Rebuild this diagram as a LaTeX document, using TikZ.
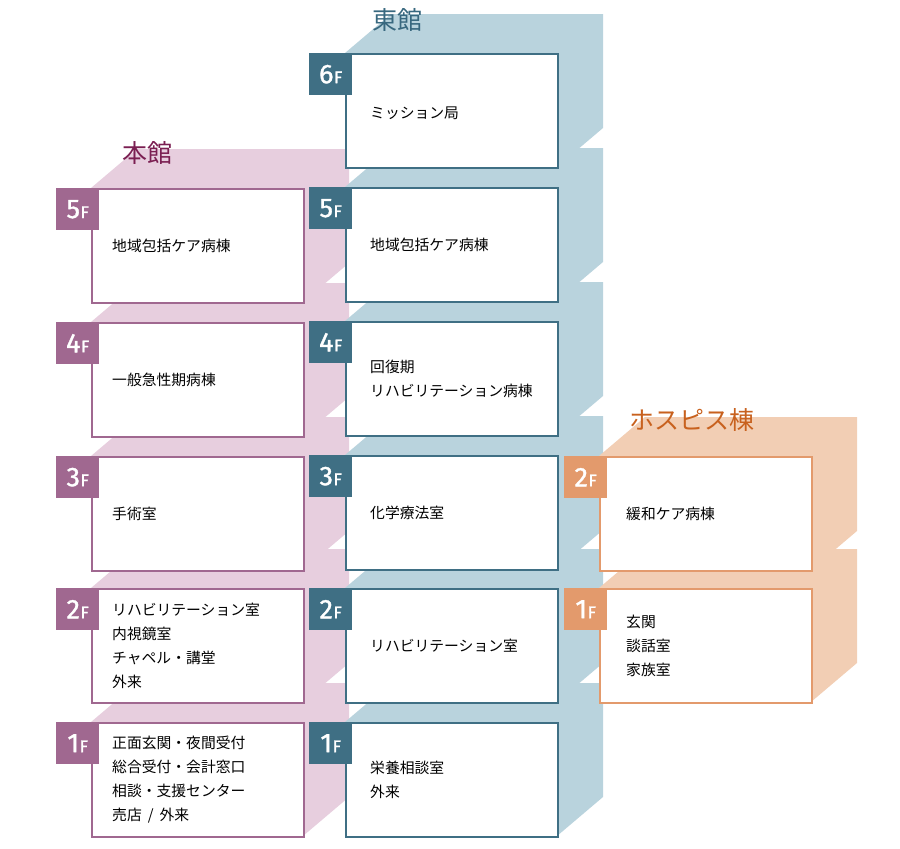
\documentclass[tikz,border=0pt]{standalone}
\usepackage{fontspec}
\setmainfont{Noto Sans CJK JP}
\newfontfamily\numfont{Fira Sans}[FakeBold=1.2]
\definecolor{pfill}{HTML}{E7CEDE}
\definecolor{pline}{HTML}{A06890}
\definecolor{ptitle}{HTML}{7B1F52}
\definecolor{bfill}{HTML}{B9D3DD}
\definecolor{bline}{HTML}{3F6F84}
\definecolor{btitle}{HTML}{38687F}
\definecolor{ofill}{HTML}{F2CEB4}
\definecolor{oline}{HTML}{E39A6C}
\definecolor{otitle}{HTML}{C8611E}
\newcommand{\prismfill}[3]{\fill[#3] (#1,#2) -- ++(46,-39) -- ++(212,0) -- ++(0,114) -- ++(-46,39) -- ++(-212,0) -- cycle;}
\newcommand{\flr}[1]{{\numfont\fontsize{27}{27}\selectfont #1\kern0.5pt\fontsize{17}{17}\selectfont F}}
\begin{document}
\begin{tikzpicture}[x=1pt,y=-1pt,
  box/.style={draw=#1, line width=1.8pt, fill=white, minimum width=212pt, minimum height=114pt, inner sep=0pt, anchor=north west},
  lab/.style={fill=#1, text=white, minimum width=43pt, minimum height=42pt, inner sep=0pt, anchor=north west},
  room/.style={anchor=west, align=left, font=\fontsize{14.8}{24}\selectfont, inner sep=0pt, text=black},
  ttl/.style={font=\fontsize{25}{25}\selectfont, text=#1, inner sep=0pt}]
\useasboundingbox (0,0) rectangle (900,849);
% ---------- 本館 ----------
\foreach \yy in {188,322,456,588,722}{\prismfill{91}{\yy}{pfill}}
\node[box=pline] (h5) at (91,188) {};
\node[box=pline] (h4) at (91,322) {};
\node[box=pline] (h3) at (91,456) {};
\node[box=pline] (h2) at (91,588) {};
\node[box=pline] (h1) at (91,722) {};
\node[lab=pline] (h5l) at (56,188) {\flr{5}};
\node[lab=pline] (h4l) at (56,322) {\flr{4}};
\node[lab=pline] (h3l) at (56,456) {\flr{3}};
\node[lab=pline] (h2l) at (56,588) {\flr{2}};
\node[lab=pline] (h1l) at (56,722) {\flr{1}};
\node[room] (h5t) at ([xshift=21pt]h5.west) {地域包括ケア病棟};
\node[room] (h4t) at ([xshift=21pt]h4.west) {一般急性期病棟};
\node[room] (h3t) at ([xshift=21pt]h3.west) {手術室};
\node[room] (h2t) at ([xshift=21pt]h2.west) {リハビリテーション室\\内視鏡室\\チャペル・講堂\\外来};
\node[room] (h1t) at ([xshift=21pt]h1.west) {正面玄関・夜間受付\\総合受付・会計窓口\\相談・支援センター\\売店\hspace{6pt}/\hspace{6pt}外来};
% ---------- 東館 ----------
\foreach \yy in {53,187,321,455,588,722}{\prismfill{345}{\yy}{bfill}}
\node[box=bline] (e6) at (345,53) {};
\node[box=bline] (e5) at (345,187) {};
\node[box=bline] (e4) at (345,321) {};
\node[box=bline] (e3) at (345,455) {};
\node[box=bline] (e2) at (345,588) {};
\node[box=bline] (e1) at (345,722) {};
\node[lab=bline] (e6l) at (309,53) {\flr{6}};
\node[lab=bline] (e5l) at (309,187) {\flr{5}};
\node[lab=bline] (e4l) at (309,321) {\flr{4}};
\node[lab=bline] (e3l) at (309,455) {\flr{3}};
\node[lab=bline] (e2l) at (309,588) {\flr{2}};
\node[lab=bline] (e1l) at (309,722) {\flr{1}};
\node[room] (e6t) at ([xshift=25pt,yshift=-2pt]e6.west) {ミッション局};
\node[room] (e5t) at ([xshift=25pt]e5.west) {地域包括ケア病棟};
\node[room] (e4t) at ([xshift=25pt]e4.west) {回復期\\リハビリテーション病棟};
\node[room] (e3t) at ([xshift=25pt]e3.west) {化学療法室};
\node[room] (e2t) at ([xshift=25pt]e2.west) {リハビリテーション室};
\node[room] (e1t) at ([xshift=25pt]e1.west) {栄養相談室\\外来};
% ---------- ホスピス棟 ----------
\foreach \yy in {456,588}{\prismfill{599}{\yy}{ofill}}
\node[box=oline] (o2) at (599,456) {};
\node[box=oline] (o1) at (599,588) {};
\node[lab=oline] (o2l) at (564,456) {\flr{2}};
\node[lab=oline] (o1l) at (564,588) {\flr{1}};
\node[room] (o2t) at ([xshift=27pt]o2.west) {緩和ケア病棟};
\node[room] (o1t) at ([xshift=27pt]o1.west) {玄関\\談話室\\家族室};
% ---------- titles ----------
\node[ttl=btitle] (etitle) at (397,20) {東館};
\node[ttl=ptitle] (htitle) at (147,153) {本館};
\node[ttl=otitle] (otitle) at (692,420) {ホスピス棟};
\end{tikzpicture}
\end{document}
